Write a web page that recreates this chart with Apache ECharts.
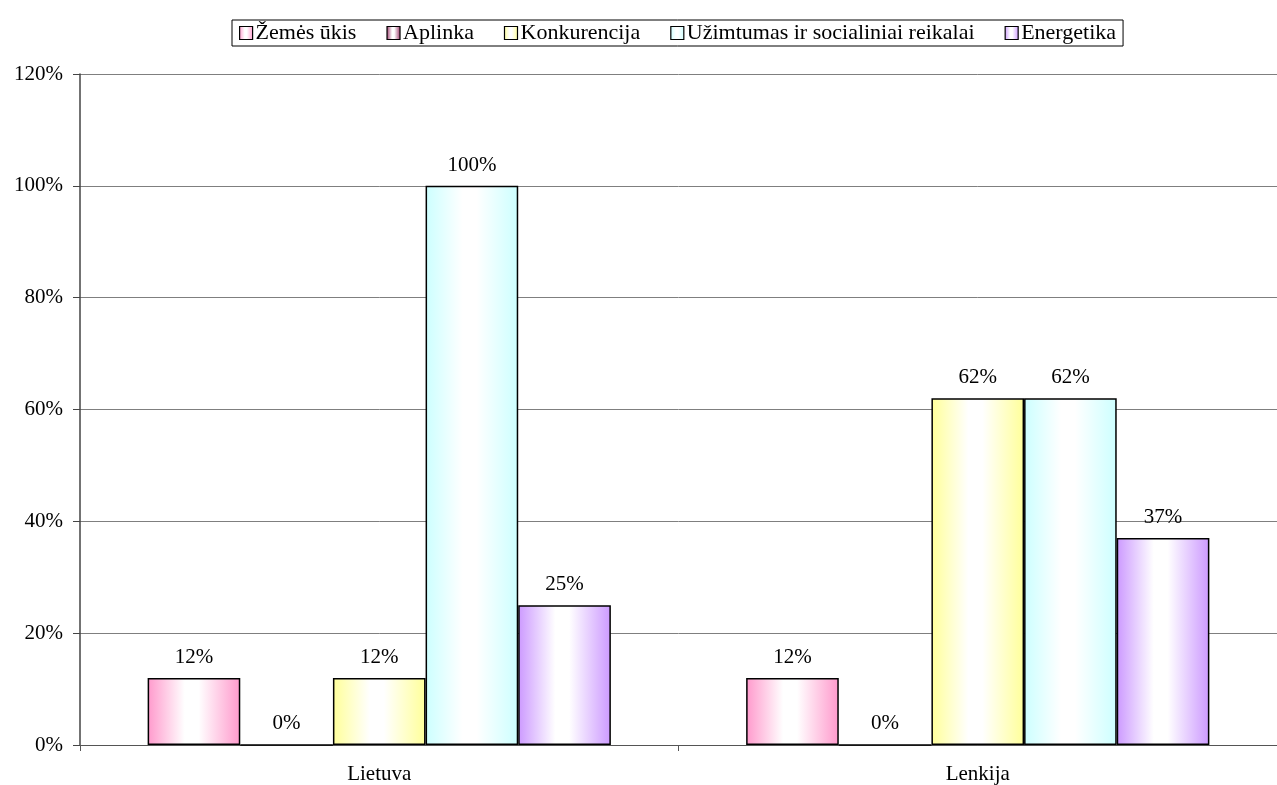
<!DOCTYPE html>
<html>
<head>
<meta charset="utf-8">
<title>Chart</title>
<script src="https://cdn.jsdelivr.net/npm/echarts@6/dist/echarts.min.js"></script>
<style>
  html, body { margin: 0; padding: 0; background: #fff; }
  #main { width: 1277px; height: 785px; }
</style>
</head>
<body>
<div id="main"></div>
<script>
// data
var categories = ['Lietuva', 'Lenkija'];
var seriesNames = ['Žemės ūkis', 'Aplinka', 'Konkurencija', 'Užimtumas ir socialiniai reikalai', 'Energetika'];
var zemesUkis = [12, 12];
var aplinka = [0, 0];
var konkurencija = [12, 62];
var uzimtumas = [100, 62];
var energetika = [25, 37];
var yTicks = [0, 20, 40, 60, 80, 100, 120];

var baseColors = ['#ff99cc', '#993366', '#ffff99', '#ccffff', '#cc99ff'];
var allData = [zemesUkis, aplinka, konkurencija, uzimtumas, energetika];

var font = '"Liberation Serif", "Times New Roman", serif';

function grad(c) {
    return new echarts.graphic.LinearGradient(0, 0, 1, 0, [
        {offset: 0, color: c},
        {offset: 0.4, color: '#ffffff'},
        {offset: 0.55, color: '#ffffff'},
        {offset: 1, color: c}
    ]);
}

var myChart = echarts.init(document.getElementById('main'));

var series = seriesNames.map(function (name, i) {
    return {
        name: name,
        type: 'bar',
        barGap: '0%',
        barCategoryGap: '22.6%',
        data: allData[i],
        itemStyle: {
            color: grad(baseColors[i]),
            borderColor: '#000',
            borderWidth: 1.5
        },
        label: {
            show: true,
            position: 'top',
            distance: 10,
            formatter: '{c}%',
            color: '#000',
            fontFamily: font,
            fontSize: 21
        }
    };
});

var option = {
    animation: false,
    legend: {
        data: seriesNames,
        left: 232,
        top: 20,
        icon: 'rect',
        itemWidth: 13,
        itemHeight: 13,
        itemGap: 30,
        padding: [2, 7, 2, 7],
        borderColor: '#000',
        borderWidth: 1,
        borderRadius: 0,
        itemStyle: {borderColor: '#000', borderWidth: 1.2},
        textStyle: {fontFamily: font, fontSize: 22, color: '#000', padding: [0, 0, 0, -2]}
    },
    grid: {
        left: 80,
        right: -6,
        top: 74,
        bottom: 40,
        containLabel: false
    },
    xAxis: {
        type: 'category',
        data: categories,
        axisLine: {lineStyle: {color: '#555', width: 1}},
        axisTick: {show: true, length: 6, lineStyle: {color: '#555'}},
        axisLabel: {fontFamily: font, fontSize: 21, color: '#000', margin: 19}
    },
    yAxis: {
        type: 'value',
        min: 0,
        max: 120,
        interval: 20,
        axisLine: {show: true, lineStyle: {color: '#444', width: 1.5}},
        axisTick: {show: true, length: 7, lineStyle: {color: '#444'}},
        splitLine: {lineStyle: {color: '#7f7f7f', width: 1}},
        axisLabel: {
            fontFamily: font,
            fontSize: 21,
            color: '#000',
            margin: 17,
            formatter: function (v) { return yTicks.indexOf(v) >= 0 ? v + '%' : ''; }
        }
    },
    series: series
};

myChart.setOption(option);
</script>
</body>
</html>
